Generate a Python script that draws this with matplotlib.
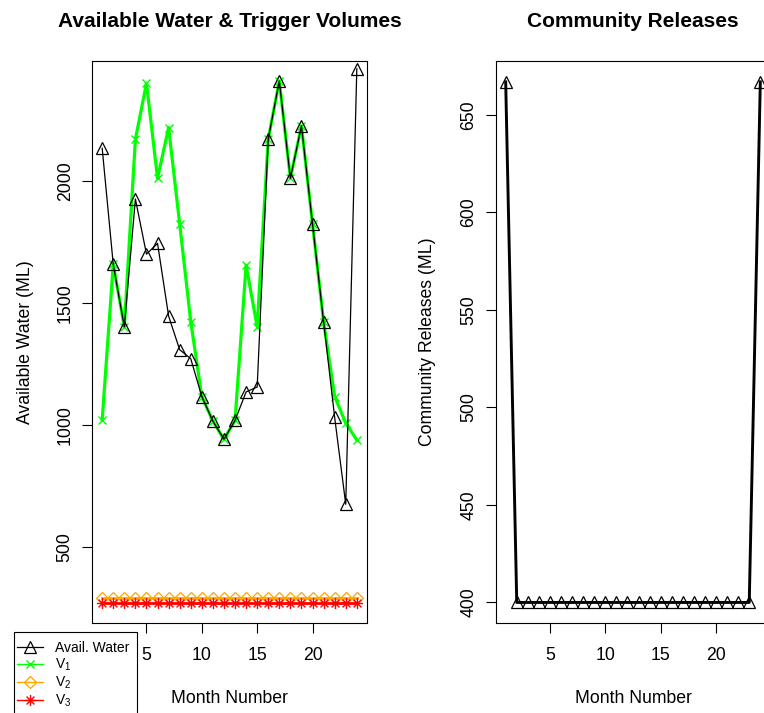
import numpy as np
import matplotlib
matplotlib.use("Agg")
import matplotlib.pyplot as plt
from matplotlib.path import Path
from matplotlib.lines import Line2D
from matplotlib.patches import Rectangle

plt.rcParams['font.family'] = ['Liberation Sans', 'DejaVu Sans']
plt.rcParams['mathtext.fontset'] = 'custom'
plt.rcParams['mathtext.rm'] = 'Liberation Sans'
plt.rcParams['mathtext.it'] = 'Liberation Sans'

# ---- data -------------------------------------------------------------
months = list(range(1, 25))
avail_water = [2134, 1658, 1402, 1926, 1700, 1744, 1446, 1308, 1271, 1116, 1015, 941,
               1018, 1135, 1155, 2172, 2410, 2011, 2226, 1824, 1423, 1030, 674, 2460]
v1 = [1020, 1658, 1402, 2171, 2401, 2011, 2219, 1824, 1423, 1116, 1015, 941,
      1018, 1655, 1402, 2172, 2410, 2011, 2226, 1824, 1423, 1116, 1007, 938]
v2 = [290] * 24
v3 = [268] * 24
releases = [667] + [400] * 22 + [667]

x_ticks = [5, 10, 15, 20]
left_yticks = [500, 1000, 1500, 2000]
right_yticks = [400, 450, 500, 550, 600, 650]

# ---- figure -----------------------------------------------------------
W, H = 764, 713
fig = plt.figure(figsize=(W / 100, H / 100), dpi=100)

def fx(x):
    return x / W

def fy(y):
    return 1 - y / H

top, bot = 61, 623.3
axL = fig.add_axes([fx(92), fy(bot), fx(367) - fx(92), fy(top) - fy(bot)])
axR = fig.add_axes([fx(495.5), fy(bot), fx(770.5) - fx(495.5), fy(top) - fy(bot)])

# asterisk marker (eight spokes)
c = np.cos(np.pi / 4)
star_path = Path(
    [(-1, 0), (1, 0), (0, -1), (0, 1), (-c, -c), (c, c), (-c, c), (c, -c)],
    [Path.MOVETO, Path.LINETO] * 4)

GREEN, ORANGE, RED = '#00FF00', '#FFA500', '#FF0000'

sty_avail = dict(color='black', lw=0.9, marker='^', ms=8.5, mfc='none', mec='black', mew=0.9)
sty_v1 = dict(color=GREEN, lw=2.3, marker='x', ms=5.5, mec=GREEN, mew=1.0)
sty_v2 = dict(color=ORANGE, lw=2.0, marker='D', ms=6.0, mfc='none', mec=ORANGE, mew=0.9)
sty_v3 = dict(color=RED, lw=2.0, marker=star_path, ms=8, mec=RED, mew=1.0)

axL.plot(months, v1, **sty_v1)
axL.plot(months, v2, **sty_v2)
axL.plot(months, v3, **sty_v3)
axL.plot(months, avail_water, **sty_avail)
axL.set_xlim(0.08, 24.92)
axL.set_ylim(186, 2492)
axL.set_yticks(left_yticks)

axR.plot(months, releases, color='black', lw=2.1, marker='^', ms=8.5,
         mfc='none', mec='black', mew=0.9)
axR.set_xlim(0.08, 24.92)
axR.set_ylim(389.3, 677.7)
axR.set_yticks(right_yticks)

FS = 12.7
for ax in (axL, axR):
    ax.set_xticks(x_ticks)
    for s in ax.spines.values():
        s.set_linewidth(0.8)
    ax.tick_params(direction='out', length=7.2, width=0.8, labelsize=FS, pad=10)
    ax.tick_params(axis='y', pad=6)
    plt.setp(ax.get_yticklabels(), rotation=90, va='center')

# titles and axis labels
fig.text(fx(229.5), fy(27), 'Available Water & Trigger Volumes', ha='center',
         va='baseline', fontsize=15, fontweight='bold')
fig.text(fx(633), fy(27), 'Community Releases', ha='center',
         va='baseline', fontsize=15, fontweight='bold')
fig.text(fx(229.5), fy(703), 'Month Number', ha='center', va='baseline', fontsize=FS)
fig.text(fx(633), fy(703), 'Month Number', ha='center', va='baseline', fontsize=FS)
fig.text(fx(30), fy(342), 'Available Water (ML)', ha='center', va='baseline',
         rotation=90, rotation_mode='anchor', fontsize=FS)
fig.text(fx(432), fy(342), 'Community Releases (ML)', ha='center', va='baseline',
         rotation=90, rotation_mode='anchor', fontsize=FS)

# legend: white box running off the bottom edge, entries placed inside
box = Rectangle((fx(14), fy(740)), fx(137) - fx(14), fy(632) - fy(740),
                transform=fig.transFigure, facecolor='white', edgecolor='black',
                linewidth=0.8, zorder=5)
fig.add_artist(box)
handles = [Line2D([], [], **sty_avail),
           Line2D([], [], **{**sty_v1, 'lw': 1.0}),
           Line2D([], [], **{**sty_v2, 'lw': 1.0}),
           Line2D([], [], **{**sty_v3, 'lw': 1.0})]
labels = ['Avail. Water', r'V$_1$', r'V$_2$', r'V$_3$']
leg = fig.legend(handles, labels, loc='upper left', bbox_to_anchor=(fx(14), fy(638)),
                 borderaxespad=0, fontsize=10, frameon=False, borderpad=0.2,
                 labelspacing=0.12, handlelength=1.9, handletextpad=0.85)
leg.set_zorder(6)

fig.savefig('out.png', dpi=100)
